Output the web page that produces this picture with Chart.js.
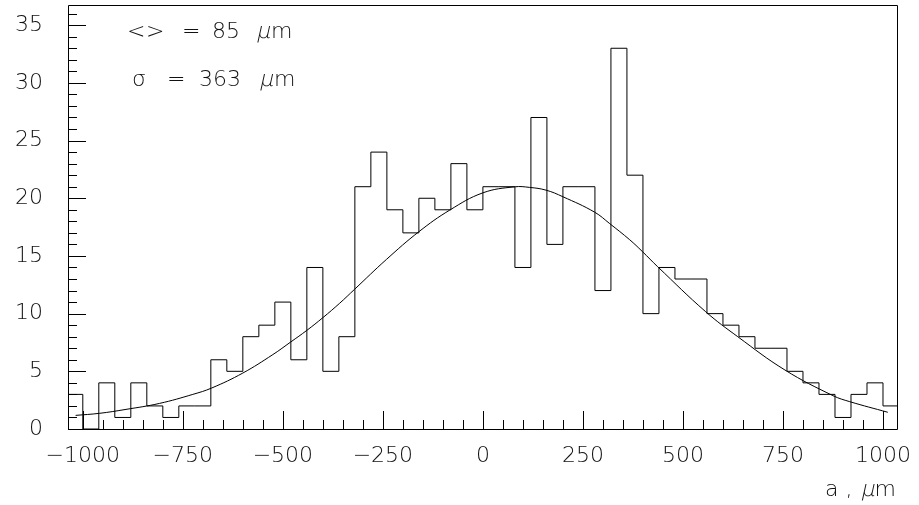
<!DOCTYPE html>
<html><head><meta charset="utf-8">
<script src="https://cdn.jsdelivr.net/npm/chart.js@4"></script>
<style>html,body{margin:0;padding:0;background:#fff;}</style>
</head><body>
<canvas id="c" width="919" height="505" style="width:919px;height:505px;display:block"></canvas>
<script>
// ---- data ----
const binEdges = [-1040,-1000,-960,-920,-880,-840,-800,-760,-720,-680,-640,-600,-560,-520,-480,-440,-400,-360,-320,-280,-240,-200,-160,-120,-80,-40,0,40,80,120,160,200,240,280,320,360,400,440,480,520,560,600,640,680,720,760,800,840,880,920,960,1000,1040];
const counts = [3,0,4,1,4,2,1,2,2,6,5,8,9,11,6,14,5,8,21,24,19,17,20,19,23,19,21,21,14,27,16,21,21,12,33,22,10,14,13,13,10,9,8,7,7,5,4,3,1,3,4,2];
const fitX = [-1018,-958,-892,-808,-725,-678,-600,-525,-480,-440,-400,-358,-321,-241,-160,-83,0,79,117,158,200,279,317,367,398,437,557,637,755,875,917,1012];
const fitY = [1.18,1.36,1.70,2.22,3.0,3.55,4.85,6.45,7.55,8.55,9.65,10.9,12.1,14.70,17.1,18.97,20.47,20.99,20.94,20.7,20.13,18.8,17.8,16.4,15.4,14.06,10.16,8.0,5.11,2.89,2.37,1.45];
const xTickLabels = [-1000,-750,-500,-250,0,250,500,750,1000];
const yTickLabels = [0,5,10,15,20,25,30,35];
const meanText = "85";
const sigmaText = "363";
const unitMu = "\u03bc";
const unitM = "m";
const xTitleText = "a , ";

// ---- style ----
const FAM = "'DejaVu Sans', sans-serif";
const FSIZE = 22;
const FW = 200;
const INK = "#111";

const histPoints = [{x: binEdges[0], y: 0}];
counts.forEach((v, i) => histPoints.push({x: binEdges[i], y: v}));
histPoints.push({x: binEdges[binEdges.length - 1], y: counts[counts.length - 1]});
const fitPoints = fitX.map((x, i) => ({x: x, y: fitY[i]}));

function fontStr() { return FW + " " + FSIZE + "px " + FAM; }

const framePlugin = {
  id: 'frame',
  afterDraw(chart) {
    const ctx = chart.ctx, a = chart.chartArea;
    const xs = chart.scales.x, ys = chart.scales.y;
    ctx.save();
    ctx.strokeStyle = "#000";
    ctx.lineWidth = 1;
    ctx.beginPath();
    ctx.rect(Math.round(a.left) + 0.5, Math.round(a.top) + 0.5, Math.round(a.right - a.left), Math.round(a.bottom - a.top));
    ctx.stroke();
    ctx.beginPath();
    for (let v = 0; v <= ys.max; v += 1) {
      const py = Math.round(ys.getPixelForValue(v)) + 0.5;
      const len = (v % 5 === 0) ? 18 : 9;
      ctx.moveTo(a.left, py); ctx.lineTo(a.left + len, py);
    }
    for (let v = -1000; v <= 1000; v += 50) {
      const px = Math.round(xs.getPixelForValue(v)) + 0.5;
      const len = (v % 250 === 0) ? 18 : 9;
      ctx.moveTo(px, a.bottom); ctx.lineTo(px, a.bottom - len);
    }
    ctx.stroke();

    ctx.fillStyle = INK;
    ctx.textBaseline = "alphabetic";
    ctx.textAlign = "left";
    ctx.font = fontStr();
    function put(t, x, y) { ctx.fillText(t, x, y); return x + ctx.measureText(t).width; }
    function putSlant(t, x, y) {
      ctx.save(); ctx.translate(x, y); ctx.transform(1, 0, -0.22, 1, 0, 0);
      ctx.fillText(t, 0, 0); ctx.restore();
      return x + ctx.measureText(t).width;
    }
    put("<", 127, 38); put(">", 146, 38); put("=", 182, 38); put(meanText, 212, 38);
    let xx = putSlant(unitMu, 256, 38); put(unitM, xx + 1, 38);
    put("\u03c3", 132, 86); put("=", 167, 86); put(sigmaText, 199, 86);
    xx = putSlant(unitMu, 259, 86); put(unitM, xx + 1, 86);
    const wm = ctx.measureText(unitM).width;
    const wmu = ctx.measureText(unitMu).width;
    const wa = ctx.measureText(xTitleText).width;
    const right = 896;
    put(unitM, right - wm, 496);
    putSlant(unitMu, right - wm - wmu, 496);
    put(xTitleText, right - wm - wmu - 1 - wa, 496);
    ctx.restore();
  }
};

const tickFont = {family: FAM, size: FSIZE, weight: FW};

new Chart(document.getElementById('c'), {
  type: 'line',
  data: {
    datasets: [
      {data: histPoints, stepped: 'before', borderColor: '#000', borderWidth: 1, pointRadius: 0, fill: false},
      {data: fitPoints, tension: 0.4, borderColor: '#000', borderWidth: 1, pointRadius: 0, fill: false}
    ]
  },
  options: {
    responsive: false,
    devicePixelRatio: 1,
    animation: false,
    events: [],
    layout: {padding: {left: 0, right: 22, top: 5, bottom: 0}},
    plugins: {legend: {display: false}, tooltip: {enabled: false}},
    scales: {
      x: {
        type: 'linear', min: -1037, max: 1035,
        grid: {display: false, drawTicks: false},
        border: {display: false},
        ticks: {padding: 14, font: tickFont, color: INK, maxRotation: 0,
          callback: v => String(v).replace('-', '\u2212')},
        afterBuildTicks: s => { s.ticks = xTickLabels.map(v => ({value: v})); },
        afterFit: s => { s.height = 76; s.paddingLeft = 0; s.paddingRight = 0; }
      },
      y: {
        type: 'linear', min: 0, max: 36.75,
        grid: {display: false, drawTicks: false},
        border: {display: false},
        ticks: {padding: 25, font: tickFont, color: INK, callback: v => String(v)},
        afterBuildTicks: s => { s.ticks = yTickLabels.map(v => ({value: v})); },
        afterFit: s => { s.width = 68; s.paddingTop = 0; s.paddingBottom = 0; }
      }
    }
  },
  plugins: [framePlugin]
});
</script>
</body></html>
